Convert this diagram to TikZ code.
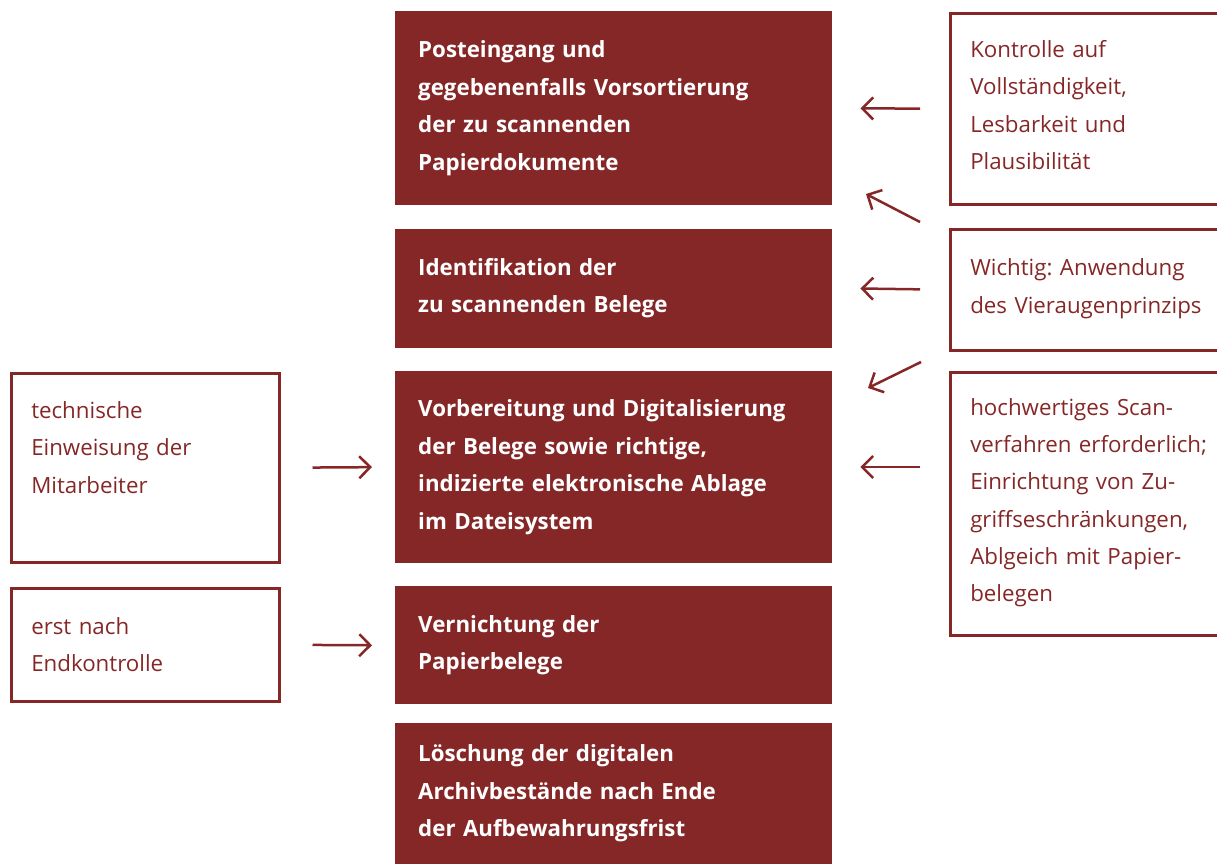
\documentclass[tikz,border=0pt]{standalone}
\usepackage{fontspec}
\setmainfont{Open Sans}
\frenchspacing
\usetikzlibrary{arrows.meta,positioning,calc}
\definecolor{scanred}{RGB}{134,39,39}
\tikzset{
  stepbox/.style={fill=scanred,text=white,font=\fontsize{22.3}{37.5}\selectfont\bfseries,
    anchor=north west,align=left,inner xsep=23pt,inner ysep=0pt,
    text width=391pt,minimum width=437pt},
  notebox/.style={draw=scanred,line width=2.5pt,text=scanred,font=\fontsize{22.3}{37.3}\selectfont,
    anchor=north west,align=left,inner xsep=20pt,inner ysep=0pt},
  flow/.style={draw=scanred,line width=2.5pt,-{Straight Barb[length=11pt,width=22pt]}}
}
\begin{document}
\begin{tikzpicture}[x=1pt,y=-1pt]
\clip (0,0) rectangle (1217,863);
\useasboundingbox (0,0) rectangle (1217,863);
% ---------------- middle column: process steps ----------------
\node[stepbox,minimum height=194pt] (post) at (395,11)
  {Posteingang und\\gegebenenfalls Vorsortierung\\der zu scannenden\\Papierdokumente};
\node[stepbox,minimum height=119pt,below=23pt of post.south west,anchor=north west] (ident)
  {Identifikation der\\zu scannenden Belege};
\node[stepbox,minimum height=192pt,below=23pt of ident.south west,anchor=north west] (digit)
  {Vorbereitung und Digitalisierung\\der Belege sowie richtige,\\indizierte elektronische Ablage\\im Dateisystem};
\node[stepbox,minimum height=118pt,below=23pt of digit.south west,anchor=north west] (vern)
  {Vernichtung der\\Papierbelege};
\node[stepbox,minimum height=141pt,below=18pt of vern.south west,anchor=north west] (loesch)
  {Löschung der digitalen\\Archivbestände nach Ende\\der Aufbewahrungsfrist};
% ---------------- right column: controls ----------------
\node[notebox,text width=260pt,minimum height=191pt] (kontr) at (949,12)
  {Kontrolle auf\\Vollständigkeit,\\Lesbarkeit und\\Plausibilität\\[-41pt]\strut};
\node[notebox,text width=260pt,minimum height=121pt] (vier) at (949,228)
  {Wichtig: Anwendung\\des Vieraugenprinzips\\[-41pt]\strut};
\node[notebox,text width=260pt,minimum height=263pt] (scan) at (949,371)
  {hochwertiges Scan-\\verfahren erforderlich;\\Einrichtung von Zu-\\griffseschränkungen,\\Ablgeich mit Papier-\\belegen\\[-41pt]\strut};
% ---------------- left column ----------------
\node[notebox,text width=228pt,minimum height=189pt] (einw) at (10,372)
  {technische\\Einweisung der\\Mitarbeiter\\[-8pt]\strut};
\node[notebox,text width=228pt,minimum height=113pt] (endk) at (10,587)
  {erst nach\\Endkontrolle};
% ---------------- arrows ----------------
\coordinate (d1a) at ($(vier.north west)+(-29,-6)$);
\coordinate (d1b) at ($(vier.north west)+(-83,-34)$);
\coordinate (d2a) at ($(scan.north west)+(-28,-9)$);
\coordinate (d2b) at ($(scan.north west)+(-81,17)$);
\draw[flow,shorten <=29pt,shorten >=28pt] (kontr.west) -- (post.east);
\draw[flow] (d1a) -- (d1b);
\draw[flow,shorten <=29pt,shorten >=28pt] (vier.west) -- (ident.east);
\draw[flow] (d2a) -- (d2b);
\draw[flow,shorten <=29pt,shorten >=28pt] (scan.west|-digit.east) -- (digit.east);
\draw[flow,shorten <=32pt,shorten >=23pt] (einw.east) -- (digit.west);
\draw[flow,shorten <=32pt,shorten >=23pt] (endk.east) -- (vern.west);
\end{tikzpicture}
\end{document}
